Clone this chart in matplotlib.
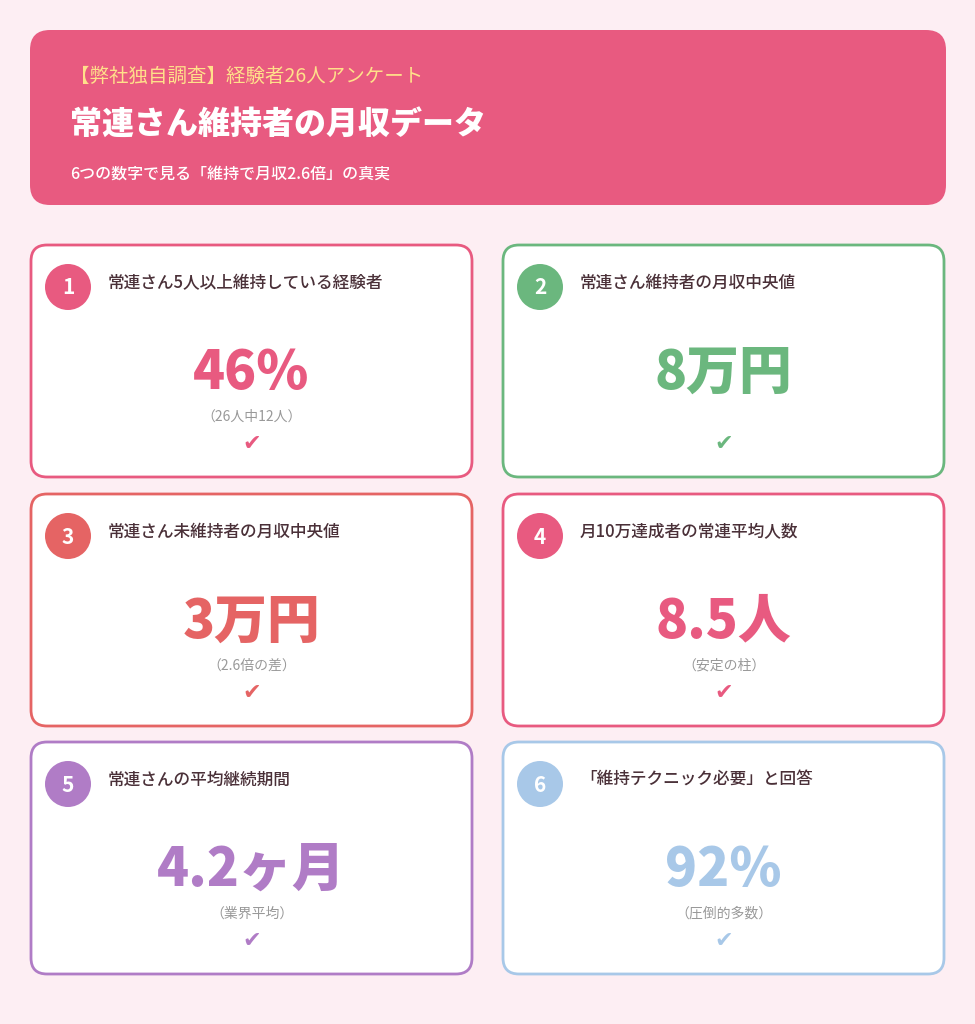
import matplotlib.pyplot as plt
from matplotlib.patches import FancyBboxPatch, Circle

plt.rcParams['font.family'] = ['Noto Sans CJK JP', 'DejaVu Sans']

BG = "#fdeef3"
HEADER = "#e85a80"

header_kicker = "【弊社独自調査】経験者26人アンケート"
header_title = "常連さん維持者の月収データ"
header_sub = "6つの数字で見る「維持で月収2.6倍」の真実"

numbers = ["1", "2", "3", "4", "5", "6"]
labels = ["常連さん5人以上維持している経験者", "常連さん維持者の月収中央値",
          "常連さん未維持者の月収中央値", "月10万達成者の常連平均人数",
          "常連さんの平均継続期間", "「維持テクニック必要」と回答"]
values = ["46%", "8万円", "3万円", "8.5人", "4.2ヶ月", "92%"]
notes = ["（26人中12人）", "", "（2.6倍の差）", "（安定の柱）", "（業界平均）", "（圧倒的多数）"]
colors = ["#e85a80", "#6bb77e", "#e56464", "#e85a80", "#b07cc6", "#a8c8e8"]

W, H = 975, 1024
fig = plt.figure(figsize=(W / 100, H / 100), dpi=100)
fig.patch.set_facecolor(BG)
ax = fig.add_axes([0, 0, 1, 1])
ax.set_xlim(0, W)
ax.set_ylim(H, 0)
ax.axis("off")

# header
ax.add_patch(FancyBboxPatch((30, 30), 916, 175, boxstyle="round,pad=0,rounding_size=20",
                            fc=HEADER, ec="none"))
ax.text(70, 76, header_kicker, color="#ffe08a", fontsize=14, va="center")
ax.text(70, 124, header_title, color="white", fontsize=23, fontweight="heavy", va="center")
ax.text(70, 174, header_sub, color="white", fontsize=11.5, fontweight="medium", va="center")

# cards
xs = [31, 503]
ys = [245, 494, 742]
cw, ch = 441, 232
for i in range(6):
    x0 = xs[i % 2]
    y0 = ys[i // 2]
    c = colors[i]
    ax.add_patch(FancyBboxPatch((x0, y0), cw, ch, boxstyle="round,pad=0,rounding_size=16",
                                fc="white", ec=c, lw=2))
    ax.add_patch(Circle((x0 + 37, y0 + 42), 23, fc=c, ec="none"))
    ax.text(x0 + 37, y0 + 43, numbers[i], color="white", fontsize=15, fontweight="bold",
            ha="center", va="center")
    ax.text(x0 + 77, y0 + 38, labels[i], color="#4a3038", fontsize=12,
            fontweight="medium", va="center")
    cx = x0 + cw / 2
    ax.text(cx, y0 + 128, values[i], color=c, fontsize=38, fontweight="heavy",
            ha="center", va="center")
    if notes[i]:
        ax.text(cx, y0 + 172, notes[i], color="#999999", fontsize=10, ha="center", va="center")
    ax.text(cx, y0 + 199, "✔", color=c, fontsize=16, ha="center", va="center",
            family=["DejaVu Sans"])

fig.savefig("out.png", dpi=100, facecolor=BG)
